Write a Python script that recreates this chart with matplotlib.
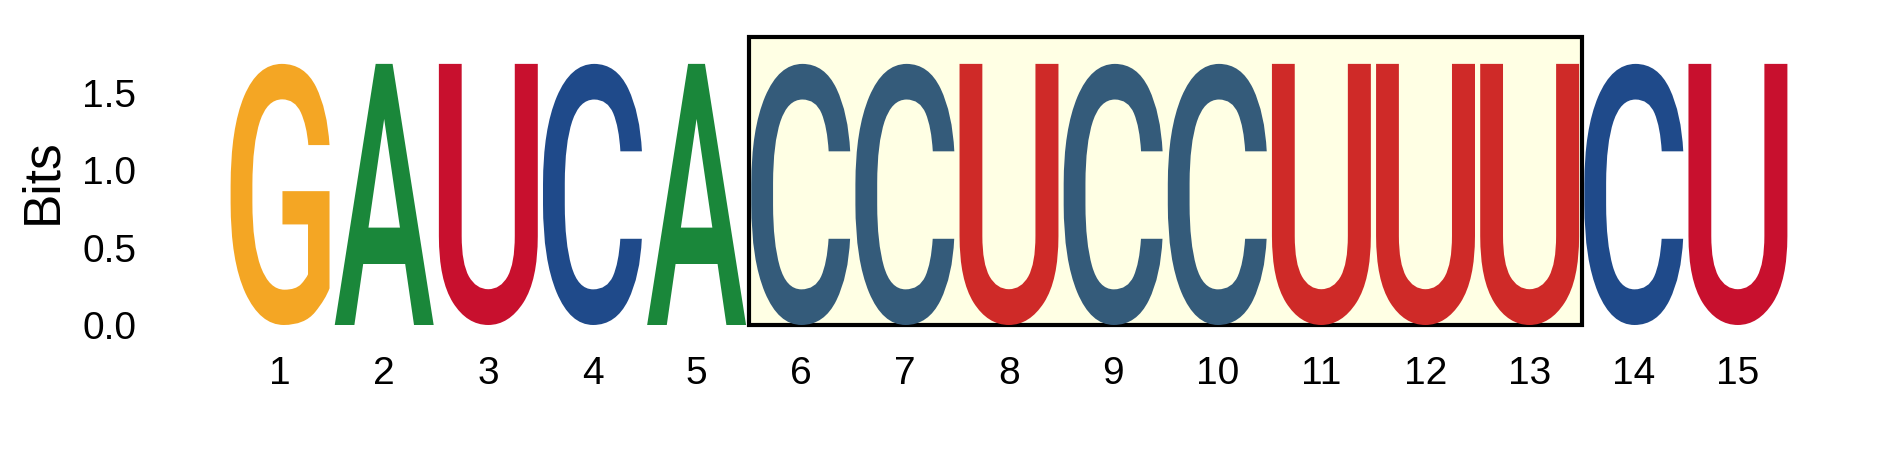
import matplotlib
matplotlib.use("Agg")
import matplotlib.pyplot as plt
from matplotlib.textpath import TextPath
from matplotlib.font_manager import FontProperties
from matplotlib.patches import PathPatch, Rectangle
from matplotlib.transforms import Affine2D

# ---- data ----
sequence = list("GAUCACCUCCUUUCU")
positions = list(range(1, 16))
heights = [1.69] * 15
highlight_start = 6
highlight_end = 13
y_ticks = [0.0, 0.5, 1.0, 1.5]

colors = {"G": "#F4A624", "A": "#1A873A", "C": "#1F4A8A", "U": "#C8102E"}
colors_hl = {"G": "#F4A624", "A": "#1A873A", "C": "#345B7A", "U": "#CF2A28"}

W, H = 1889, 472
fig = plt.figure(figsize=(W / 100, H / 100), dpi=100)
ax_left, ax_right, ax_bottom, ax_top = 228, 1790, 325, 37
ax = fig.add_axes([ax_left / W, 1 - ax_bottom / H, (ax_right - ax_left) / W, (ax_bottom - ax_top) / H])

ymax = 1.864
ax.set_xlim(0.5, 15.5)
ax.set_ylim(0, ymax)

fp = FontProperties(family="Roboto", weight=500)
width = 0.95

for pos, ch, h in zip(positions, sequence, heights):
    in_hl = highlight_start <= pos <= highlight_end
    col = colors_hl[ch] if in_hl else colors[ch]
    tp = TextPath((0, 0), ch, size=1, prop=fp)
    ext = tp.get_extents()
    tr = (Affine2D()
          .translate(-ext.x0, -ext.y0)
          .scale(width / ext.width, h / ext.height)
          .translate(pos - width / 2, 0))
    path = tr.transform_path(tp)
    ax.add_patch(PathPatch(path, facecolor=col, edgecolor="none", zorder=3))

rect = Rectangle((highlight_start - 0.5, 0), highlight_end - highlight_start + 1, ymax,
                 facecolor="#FFFFE4", edgecolor="black", linewidth=3, zorder=1, clip_on=False)
ax.add_patch(rect)

for s in ax.spines.values():
    s.set_visible(False)

ax.set_xticks(positions)
ax.set_xticklabels([str(p) for p in positions], fontsize=28, family="Liberation Sans")
ax.set_yticks(y_ticks)
ax.set_yticklabels([f"{v:.1f}" for v in y_ticks], fontsize=28, family="Liberation Sans")
ax.tick_params(axis="both", length=0)
ax.tick_params(axis="y", pad=66)
ax.tick_params(axis="x", pad=22)

fig.text(42.5 / W, 1 - 181 / H, "Bits", rotation=90, ha="center", va="center",
         fontsize=37, family="Liberation Sans")

fig.savefig("out.png", dpi=100)
